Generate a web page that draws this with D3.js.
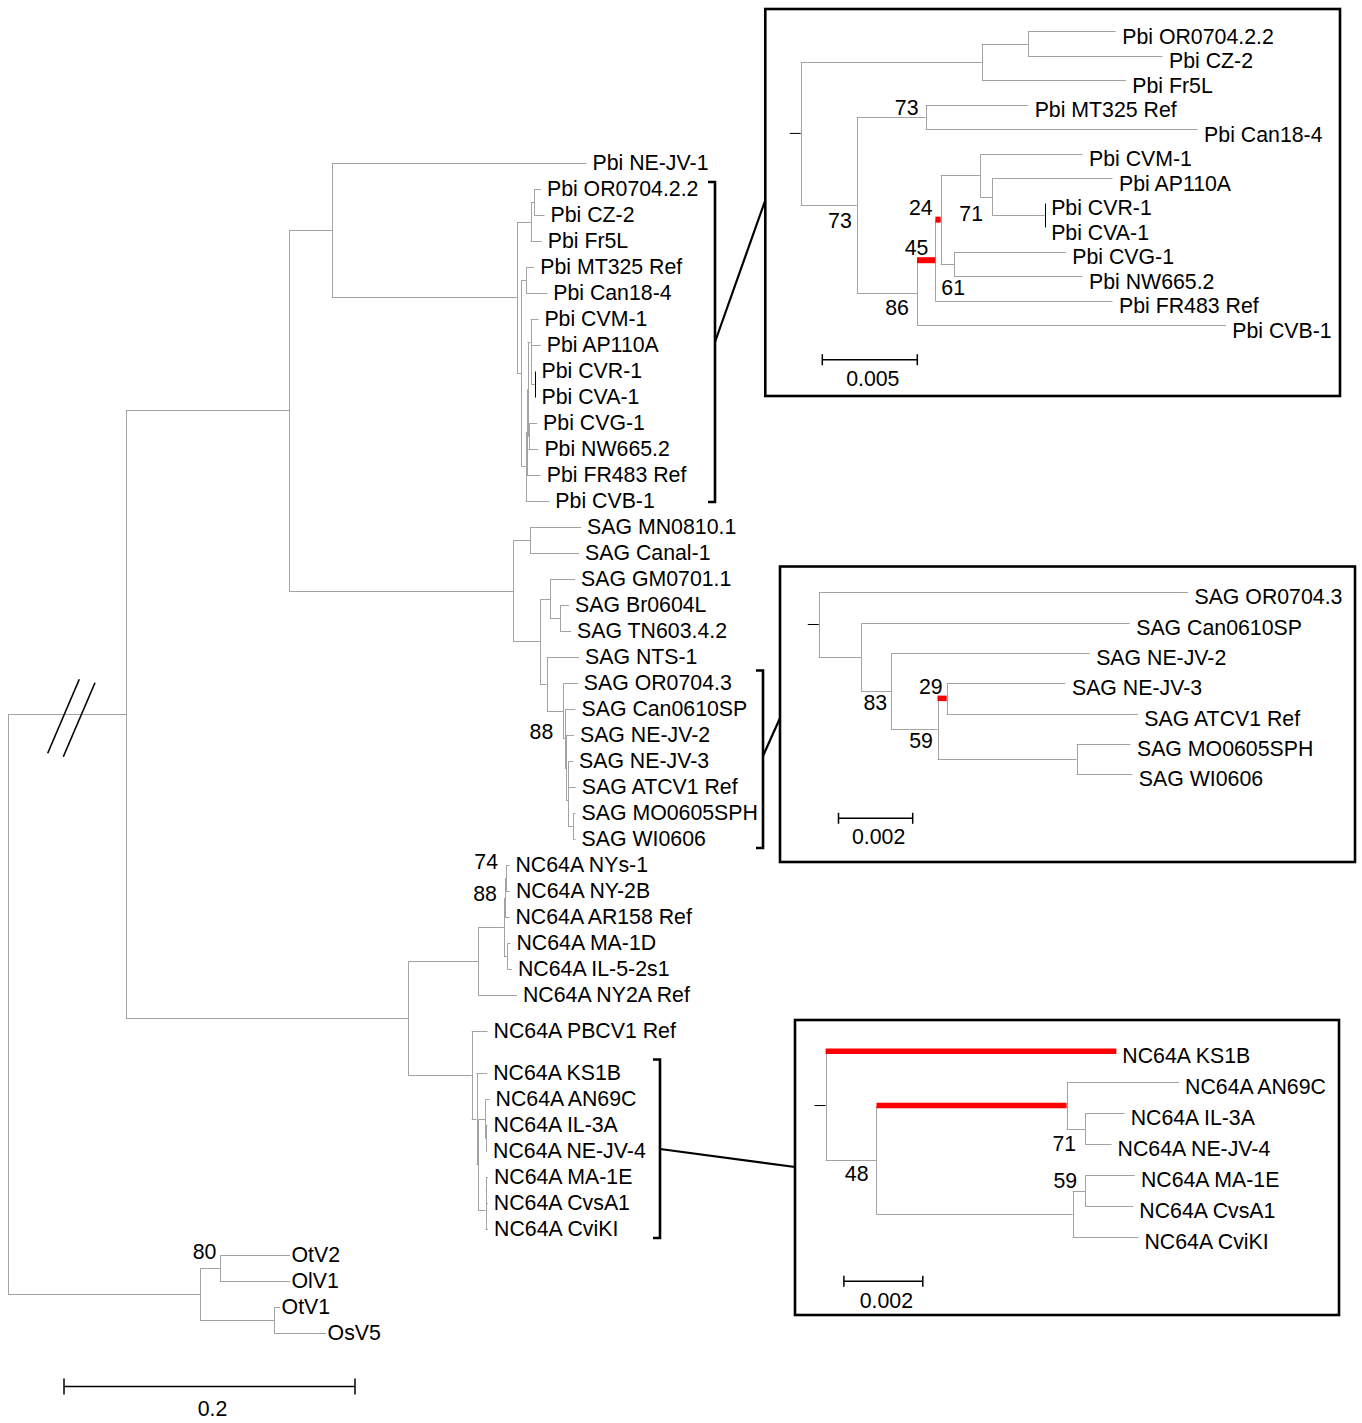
<!DOCTYPE html>
<html><head><meta charset="utf-8">
<script src="https://cdn.jsdelivr.net/npm/d3@7"></script>
<style>
body{margin:0;background:#fff}
svg text{font-family:"Liberation Sans",Arial,Helvetica,sans-serif;font-size:21.3px;fill:#000}
</style>
</head><body>
<svg id="chart" width="1362" height="1423"></svg>
<script>
// ---------------- DATA (Newick fragments: branch lengths + bootstrap support) ----------------
const pbiD = "(('Pbi OR0704.2.2':0.00463,'Pbi CZ-2':0.00709):0.00242,'Pbi Fr5L':0.00758)";
const pbiL = "('Pbi AP110A':0.00634,('Pbi CVR-1':0,'Pbi CVA-1':0):0.00277)";
const pbiJ = `(('Pbi CVM-1':0.00537,${pbiL}71:0.00061):0.00209,('Pbi CVG-1':0.00588,'Pbi NW665.2':0.00676)61:0.0007)`;
const pbiH = `((${pbiJ}24:0.00028,'Pbi FR483 Ref':0.00932)45:0.00097,'Pbi CVB-1':0.01625)`;
const pbiG = `(('Pbi MT325 Ref':0.0054,'Pbi Can18-4':0.01432)73:0.00362,${pbiH}86:0.00317)`;
const pbiClade = `(${pbiD}:0.00953,${pbiG}73:0.00295)`;

const sagN59 = "(('SAG NE-JV-3':0.0032,'SAG ATCV1 Ref':0.00515)29:0.000248,('SAG MO0605SPH':0.00145,'SAG WI0606':0.0015):0.00375)";
const sagClade = `('SAG OR0704.3':0.00995,('SAG Can0610SP':0.00723,('SAG NE-JV-2':0.00535,${sagN59}59:0.00125)83:0.0008):0.00115)`;

const nc64Clade = "('NC64A KS1B':0.00737,(('NC64A AN69C':0.00285,('NC64A IL-3A':0.001,'NC64A NE-JV-4':0.00067)71:0.00047):0.00482,(('NC64A MA-1E':0.00126,'NC64A CvsA1':0.00122)59:0.00032,'NC64A CviKI':0.00167):0.00497)48:0.00129)";

const mainC  = `('Pbi NE-JV-1':0.1749,${pbiClade}:0.127)`;
const mainS1 = "('SAG MN0810.1':0.0351,'SAG Canal-1':0.0337)";
const mainS3 = "('SAG GM0701.1':0.0172,('SAG Br0604L':0.0062,'SAG TN603.4.2':0.0076):0.00687)";
const mainS4 = `('SAG NTS-1':0.0222,${sagClade}88:0.0114)`;
const mainS0 = `(${mainS1}:0.01148,(${mainS3}:0.00687,${mainS4}:0.0046):0.01835)`;
const mainB  = `(${mainC}:0.0296,${mainS0}:0.1542)`;
const mainU  = "((('NC64A NYs-1':0.0024,'NC64A NY-2B':0.00275)74:0.0007,'NC64A AR158 Ref':0.0031)88:0.0007,('NC64A MA-1D':0.0021,'NC64A IL-5-2s1':0.0031):0.0024)";
const mainN0 = `((${mainU}:0.01766,'NC64A NY2A Ref':0.0266):0.0481,('NC64A PBCV1 Ref':0.0109,${nc64Clade}:0.0033):0.0436)`;
const mainO  = "(('OtV2':0.0481,'OlV1':0.0481)80:0.01375,('OtV1':0.0041,'OsV5':0.0357):0.0509)";
const mainTree = `((${mainB}:0.112,${mainN0}:0.194):0.0811,${mainO}:0.132)`;

const scaleBarValues = [0.2, 0.005, 0.002, 0.002];
const scaleBarLabels = ["0.2", "0.005", "0.002", "0.002"];
// branches drawn highlighted (red) in the insets, identified by the leaves they span
const pbiHighlights  = [["Pbi CVM-1", "Pbi FR483 Ref"], ["Pbi CVM-1", "Pbi NW665.2"]];
const sagHighlights  = [["SAG NE-JV-3", "SAG ATCV1 Ref"]];
const nc64Highlights = [["NC64A KS1B"], ["NC64A AN69C", "NC64A NE-JV-4"]];

// ---------------- LAYOUT ----------------
const GREY = "#a3a3a3";
const svg = d3.select("#chart");

function parseNewick(str) {
  const s = str.trim(); let i = 0;
  function node() {
    const n = { name: "", length: 0, support: null, children: null };
    if (s[i] === "(") {
      i++; n.children = [node()];
      while (s[i] === ",") { i++; n.children.push(node()); }
      if (s[i] !== ")") throw new Error("Newick: expected ) at " + i + " got " + s[i]);
      i++;
    }
    if (s[i] === "'") { const j = s.indexOf("'", i + 1); n.name = s.slice(i + 1, j); i = j + 1; }
    else {
      let lab = "";
      while (i < s.length && !":,();".includes(s[i])) lab += s[i++];
      if (lab) { if (n.children) n.support = lab; else n.name = lab; }
    }
    if (s[i] === ":") { i++; let num = ""; while (i < s.length && /[0-9.eE+\-]/.test(s[i])) num += s[i++]; n.length = +num; }
    return n;
  }
  return node();
}

function layoutTree(str, xScale, leafY) {
  const h = d3.hierarchy(parseNewick(str), d => d.children);
  h.eachBefore(n => { n.dist = n.parent ? n.parent.dist + n.data.length : 0; n.px = xScale(n.dist); });
  let extra = 0;
  h.leaves().forEach((l, k) => { const r = leafY(k, l.data.name, extra); extra = r.extra; l.py = r.y; });
  h.eachAfter(n => { if (n.children) n.py = (n.children[0].py + n.children[n.children.length - 1].py) / 2; });
  return h;
}

function findNode(h, names) {
  const leaves = h.leaves();
  const a = leaves.find(l => l.data.name === names[0]);
  if (names.length === 1) return a;
  const b = leaves.find(l => l.data.name === names[1]);
  return a.ancestors().find(n => n.leaves().includes(b));
}

function drawTree(h, o) {
  const g = svg.append("g");
  const nodes = h.descendants();
  g.selectAll(null).data(nodes.filter(n => n.parent)).join("line")
    .attr("x1", n => n.parent.px).attr("x2", n => n.px)
    .attr("y1", n => Math.round(n.py) + 0.5).attr("y2", n => Math.round(n.py) + 0.5)
    .attr("stroke", GREY).attr("stroke-width", 1);
  g.selectAll(null).data(nodes.filter(n => n.children)).join("line")
    .attr("x1", n => Math.round(n.px) + 0.5).attr("x2", n => Math.round(n.px) + 0.5)
    .attr("y1", n => Math.round(n.children[0].py) + 0.5)
    .attr("y2", n => Math.round(n.children[n.children.length - 1].py) + 0.5)
    .attr("stroke", n => n.children.every(c => c.data.length === 0) ? "#000" : GREY)
    .attr("stroke-width", 1);
  if (o.highlights) {
    const hl = o.highlights.map(nm => findNode(h, nm));
    g.selectAll(null).data(hl).join("line")
      .attr("x1", n => n.parent.px).attr("x2", n => n.px)
      .attr("y1", n => n.py).attr("y2", n => n.py)
      .attr("stroke", "#ff0000").attr("stroke-width", o.hlWidth || 5.5);
  }
  if (o.rootTick) {
    g.append("line").attr("x1", h.px - 11).attr("x2", h.px).attr("y1", h.py).attr("y2", h.py)
      .attr("stroke", "#000").attr("stroke-width", 1);
  }
  g.selectAll(null).data(h.leaves()).join("text")
    .attr("x", n => n.px + (o.tightLabels && o.tightLabels.includes(n.data.name) ? 1.5 : o.labelGap))
    .attr("y", n => n.py + o.labelDy)
    .attr("dominant-baseline", "central")
    .text(n => n.data.name);
  const sup = nodes.filter(n => n.children && n.data.support != null).map(n => {
    const lv = n.leaves();
    const key = lv[0].data.name + "|" + lv[lv.length - 1].data.name;
    return { n, off: o.supportPos[key] };
  }).filter(d => d.off);
  g.selectAll(null).data(sup).join("text")
    .attr("x", d => d.n.px + d.off[0]).attr("y", d => d.n.py + d.off[1])
    .attr("text-anchor", "end").attr("dominant-baseline", "central")
    .text(d => d.n.data.support);
  return g;
}

function scaleBar(xScale, value, label, x0, y, tick, labelY) {
  const len = xScale(value) - xScale(0);
  const g = svg.append("g").attr("stroke", "#000").attr("stroke-width", 1.5);
  g.append("line").attr("x1", x0).attr("x2", x0 + len).attr("y1", y).attr("y2", y);
  g.append("line").attr("x1", x0).attr("x2", x0).attr("y1", y - tick).attr("y2", y + tick);
  g.append("line").attr("x1", x0 + len).attr("x2", x0 + len).attr("y1", y - tick).attr("y2", y + tick);
  svg.append("text").attr("x", x0 + len / 2 + 3).attr("y", labelY)
    .attr("text-anchor", "middle").attr("dominant-baseline", "central").text(label);
}

// ---- main tree ----
const xMain = d3.scaleLinear().domain([0, 0.2]).range([8, 299]);
const yMainRow = d3.scaleLinear().domain([0, 1]).range([163, 189]);
const mainRowGaps = { "NC64A PBCV1 Ref": 0.4, "NC64A KS1B": 0.6 };
const hMain = layoutTree(mainTree, xMain, (k, name, extra) => {
  const e = extra + (mainRowGaps[name] || 0);
  return { y: yMainRow(k + e), extra: e };
});
drawTree(hMain, {
  labelGap: 6, labelDy: 0,
  tightLabels: ["OtV2", "OlV1", "OtV1", "OsV5"],
  supportPos: {
    "SAG OR0704.3|SAG WI0606": [-10, 21],
    "NC64A NYs-1|NC64A NY-2B": [-8, -16],
    "NC64A NYs-1|NC64A AR158 Ref": [-8, -3.5],
    "OtV2|OlV1": [-3.7, -16]
  }
});
// break marks on the root branch
const brk = svg.append("g").attr("stroke", "#000").attr("stroke-width", 1.6);
[[47.7, 753.3, 79.3, 679.3], [63.3, 756.7, 95, 682.7]].forEach(d =>
  brk.append("line").attr("x1", d[0]).attr("y1", d[1]).attr("x2", d[2]).attr("y2", d[3]));
scaleBar(xMain, scaleBarValues[0], scaleBarLabels[0], 64, 1386.5, 8, 1409);

// ---- inset 1: Pbi ----
const x1 = d3.scaleLinear().domain([0, 0.005]).range([800.7, 895.7]);
const y1 = d3.scaleLinear().domain([0, 1]).range([31.3, 55.8]);
const h1 = layoutTree(pbiClade, x1, (k, n, e) => ({ y: y1(k), extra: e }));
drawTree(h1, {
  labelGap: 6.5, labelDy: 5.5, rootTick: true, highlights: pbiHighlights, hlWidth: 6,
  supportPos: {
    "Pbi MT325 Ref|Pbi Can18-4": [-7, -9],
    "Pbi MT325 Ref|Pbi CVB-1": [-5, 16],
    "Pbi CVM-1|Pbi CVB-1": [-8, 15.6],
    "Pbi CVM-1|Pbi FR483 Ref": [-7, -12.5],
    "Pbi CVM-1|Pbi NW665.2": [-8, -12],
    "Pbi AP110A|Pbi CVA-1": [-9, 17],
    "Pbi CVG-1|Pbi NW665.2": [11, 24]
  }
});
scaleBar(x1, scaleBarValues[1], scaleBarLabels[1], 822.3, 359.7, 5.5, 378.5);

// ---- inset 2: SAG ----
const x2 = d3.scaleLinear().domain([0, 0.002]).range([818.8, 893]);
const y2 = d3.scaleLinear().domain([0, 1]).range([592.3, 622.6]);
const h2 = layoutTree(sagClade, x2, (k, n, e) => ({ y: y2(k), extra: e }));
drawTree(h2, {
  labelGap: 6.5, labelDy: 5, rootTick: true, highlights: sagHighlights, hlWidth: 5.5,
  supportPos: {
    "SAG NE-JV-2|SAG WI0606": [-4, 12],
    "SAG NE-JV-3|SAG ATCV1 Ref": [-4, -11],
    "SAG NE-JV-3|SAG WI0606": [-4.6, 12]
  }
});
scaleBar(x2, scaleBarValues[2], scaleBarLabels[2], 838.5, 818.3, 5.5, 836.7);

// ---- inset 3: NC64A ----
const x3 = d3.scaleLinear().domain([0, 0.002]).range([825.6, 904.5]);
const y3 = d3.scaleLinear().domain([0, 1]).range([1051.3, 1082.3]);
const h3 = layoutTree(nc64Clade, x3, (k, n, e) => ({ y: y3(k), extra: e }));
drawTree(h3, {
  labelGap: 6, labelDy: 4.5, rootTick: true, highlights: nc64Highlights, hlWidth: 5.5,
  supportPos: {
    "NC64A AN69C|NC64A CviKI": [-8, 14],
    "NC64A IL-3A|NC64A NE-JV-4": [-9, 15],
    "NC64A MA-1E|NC64A CvsA1": [-8, -9.5]
  }
});
scaleBar(x3, scaleBarValues[3], scaleBarLabels[3], 843.9, 1281.3, 5.5, 1300.5);

// ---- inset frames, brackets, connectors ----
const deco = svg.append("g").attr("fill", "none").attr("stroke", "#000").attr("stroke-width", 2.6);
[[765.3, 9, 574.7, 387], [780, 566.5, 575, 295.5], [795, 1020, 544, 295]].forEach(r =>
  deco.append("rect").attr("x", r[0]).attr("y", r[1]).attr("width", r[2]).attr("height", r[3]));
deco.append("path").attr("d", "M708,182H715V502H708");
deco.append("path").attr("d", "M756,670.5H763V848H756");
deco.append("path").attr("d", "M653,1059.5H660V1238H653");
deco.append("line").attr("x1", 715).attr("y1", 342).attr("x2", 765).attr("y2", 201).attr("stroke-width", 2.2);
deco.append("line").attr("x1", 763).attr("y1", 756).attr("x2", 780).attr("y2", 718).attr("stroke-width", 2.2);
deco.append("line").attr("x1", 660).attr("y1", 1149).attr("x2", 795).attr("y2", 1167).attr("stroke-width", 2.2);
</script>
</body></html>
